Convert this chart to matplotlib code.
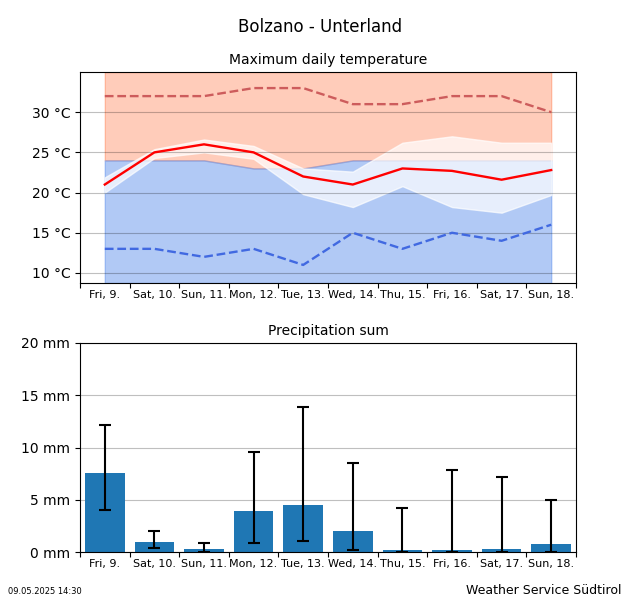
import numpy as np
import matplotlib
matplotlib.use('Agg')
import matplotlib.pyplot as plt

days = ['Fri, 9.', 'Sat, 10.', 'Sun, 11.', 'Mon, 12.', 'Tue, 13.', 'Wed, 14.', 'Thu, 15.', 'Fri, 16.', 'Sat, 17.', 'Sun, 18.']

t_max = [21, 25, 26, 25, 22, 21, 23, 22.7, 21.6, 22.8]
t_band_low = [20, 24.3, 25, 24.2, 19.8, 18.2, 20.8, 18.2, 17.5, 19.7]
t_band_high = [21.9, 25.4, 26.6, 25.8, 23, 22.6, 26.2, 27, 26.2, 26.2]
t_record_high = [32, 32, 32, 33, 33, 31, 31, 32, 32, 30]
t_record_low = [13, 13, 12, 13, 11, 15, 13, 15, 14, 16]
t_normal = [24, 24, 24, 23, 23, 24, 24, 24, 24, 24]
t_top = [35] * 10
t_bottom = [8.75] * 10
temp_ticks = [10, 15, 20, 25, 30]

rain = [7.6, 1, 0.3, 3.9, 4.5, 2, 0.2, 0.2, 0.3, 0.8]
rain_low = [4, 0.4, 0, 0.9, 1.1, 0.2, 0, 0, 0, 0]
rain_high = [12.2, 2, 0.9, 9.6, 13.9, 8.5, 4.2, 7.8, 7.2, 5]
rain_ticks = [0, 5, 10, 15, 20]

x = np.arange(len(days))
edges = np.arange(len(days) + 1) - 0.5

fig = plt.figure(figsize=(6.4, 6.0), dpi=100)
ax1 = fig.add_axes([80 / 640, 1 - 283 / 600, 496 / 640, 211 / 600])
ax2 = fig.add_axes([80 / 640, 1 - 552 / 600, 496 / 640, 209 / 600])

# temperature
ax1.fill_between(x, t_normal, t_top, color='orangered', alpha=0.27, lw=1, zorder=1)
ax1.fill_between(x, t_bottom, t_normal, color='cornflowerblue', alpha=0.5, lw=1, zorder=1.1)
ax1.fill_between(x, t_band_low, t_band_high, color='white', alpha=0.7, lw=1, zorder=2)
ax1.grid(axis='y', color='black', alpha=0.25, lw=0.8)
ax1.set_axisbelow(False)
ax1.plot(x, t_record_high, color='indianred', ls='--', lw=1.7, zorder=3)
ax1.plot(x, t_record_low, color='royalblue', ls='--', lw=1.7, zorder=3)
ax1.plot(x, t_max, color='red', lw=1.7, zorder=4)
ax1.set_xlim(-0.5, 9.5)
ax1.set_ylim(8.75, 35)
ax1.set_yticks(temp_ticks)
ax1.set_yticklabels([f'{t} °C' for t in temp_ticks], fontsize=10)
ax1.set_title('Maximum daily temperature', fontsize=10, pad=6)

# precipitation
ax2.grid(axis='y', color='black', alpha=0.25, lw=0.8)
ax2.set_axisbelow(True)
ax2.bar(x, rain, width=0.8, color='tab:blue', zorder=2)
err = [np.array(rain) - np.array(rain_low), np.array(rain_high) - np.array(rain)]
ax2.errorbar(x, rain, yerr=err, fmt='none', ecolor='black', elinewidth=1.5, capsize=4.5, capthick=1.5, zorder=3)
ax2.set_xlim(-0.5, 9.5)
ax2.set_ylim(0, 20)
ax2.set_yticks(rain_ticks)
ax2.set_yticklabels([f'{r} mm' for r in rain_ticks], fontsize=10)
ax2.set_title('Precipitation sum', fontsize=10, pad=6)

for ax in (ax1, ax2):
    ax.set_xticks(edges)
    ax.set_xticklabels([])
    ax.set_xticks(x, minor=True)
    ax.set_xticklabels(days, minor=True, fontsize=8)
    ax.tick_params(axis='x', which='minor', length=0, pad=5)

fig.text(0.5, 1 - 27 / 600, 'Bolzano - Unterland', ha='center', va='center', fontsize=12)
fig.text(8 / 640, 1 - 591 / 600, '09.05.2025 14:30', ha='left', va='center', fontsize=6)
fig.text(621 / 640, 1 - 590 / 600, 'Weather Service Südtirol', ha='right', va='center', fontsize=9)

fig.savefig('out.png', dpi=100)
